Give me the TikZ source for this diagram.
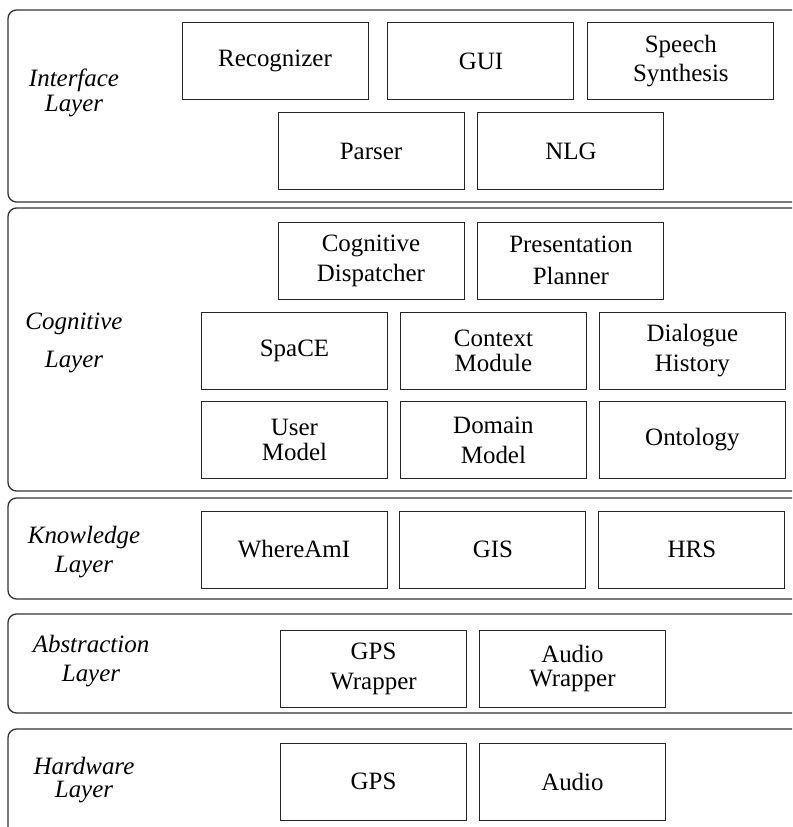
\documentclass[tikz,border=0pt]{standalone}
\usepackage{fontspec}
\setmainfont{Liberation Serif}
\usepackage{tikz}
\usetikzlibrary{positioning}

\begin{document}
\begin{tikzpicture}[
            x = 0.02cm, y = -0.02cm, % pixel grid
            font = \fontsize{14.2}{17}\selectfont,
            node distance = 0.24cm % gap between modules
            ]

        \tikzstyle{module}=[
            draw = black!85,
            line width = 0.55pt,
            fill = white,
            align = center,
            inner sep = 0pt,
            minimum width = 3.72cm,
            minimum height = 1.54cm
        ]
        \tikzstyle{layer}=[
            draw = black!80,
            line width = 0.75pt,
            rounded corners = 0.17cm
        ]
        \tikzstyle{layername}=[
            font = \fontsize{14.2}{17}\selectfont\itshape,
            align = center
        ]

        \useasboundingbox (0,0) rectangle (792,827);
        \begin{scope}
        \clip (0,0) rectangle (792,827);

        % layers
        \draw[layer] (8,10) rectangle (820,202);
        \draw[layer] (8,208) rectangle (820,491);
        \draw[layer] (8,498) rectangle (820,599);
        \draw[layer] (8,614) rectangle (820,713);
        \draw[layer] (8,729) rectangle (820,860);

        % layer names
        \node[layername] (IL) at (74,93) {Interface\\[-0.1cm]Layer};
        \node[layername] (CL) at (74,343) {Cognitive\\[0.15cm]Layer};
        \node[layername] (KL) at (84,552) {Knowledge\\Layer};
        \node[layername] (AL) at (91,661) {Abstraction\\Layer};
        \node[layername] (HL) at (84,780) {Hardware\\[-0.12cm]Layer};

        % interface layer
        \node[module] (Rec) at (275,61) {Recognizer};
        \node[module] (GUI) [right = 0.38cm of Rec] {GUI};
        \node[module] (Syn) [right = 0.26cm of GUI] {Speech\\Synthesis};
        \node[module] (Par) at (371,151) {Parser};
        \node[module] (NLG) [right = 0.26cm of Par] {NLG};

        % cognitive layer
        \node[module] (Dis) at (371,260.5) {Cognitive\\Dispatcher};
        \node[module] (Pla) [right = 0.26cm of Dis] {Presentation\\[0.05cm]Planner};
        \node[module] (Spa) at (294.5,350.5) {SpaCE};
        \node[module] (Ctx) [right = of Spa] {Context\\[-0.1cm]Module};
        \node[module] (Dia) [right = of Ctx] {Dialogue\\History};
        \node[module] (Usr) at (294.5,440) {User\\[-0.1cm]Model};
        \node[module] (Dom) [right = of Usr] {Domain\\Model};
        \node[module] (Ont) [right = of Dom] {Ontology};

        % knowledge layer
        \node[module] (Whe) at (294,549.5) {WhereAmI};
        \node[module] (GIS) [right = of Whe] {GIS};
        \node[module] (HRS) [right = of GIS] {HRS};

        % abstraction layer
        \node[module] (GPW) at (373.5,668.5) {GPS\\Wrapper};
        \node[module] (AuW) [right = of GPW] {Audio\\[-0.1cm]Wrapper};

        % hardware layer
        \node[module] (GPS) at (373.5,781.5) {GPS};
        \node[module] (Aud) [right = of GPS] {Audio};
        \end{scope}

\end{tikzpicture}
\end{document}
